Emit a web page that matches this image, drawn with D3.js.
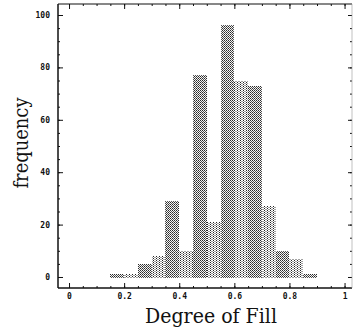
<!DOCTYPE html>
<html><head><meta charset="utf-8">
<script src="https://cdn.jsdelivr.net/npm/d3@7"></script>
<style>html,body{margin:0;padding:0;background:#fff;}svg{display:block;}</style>
</head><body>
<svg id="c" width="354" height="331"></svg>
<script>
// Data: histogram of degree of fill
const binStarts = [0.15,0.20,0.25,0.30,0.35,0.40,0.45,0.50,0.55,0.60,0.65,0.70,0.75,0.80,0.85];
const binWidth = 0.05;
const counts    = [1,1,5,8,29,10,77,21,96,75,73,27,10,7,1];
const xTicks = [0,0.2,0.4,0.6,0.8,1];
const xTickLabels = ["0","0.2","0.4","0.6","0.8","1"];
const yTicks = [0,20,40,60,80,100];
const yTickLabels = ["0","20","40","60","80","100"];

const svg = d3.select("#c");
const L = 58, R = 352, T = 4, B = 288;
const x = d3.scaleLinear().domain([-0.04, 1.027]).range([L, R]);
const y = d3.scaleLinear().domain([-4.2, 104.2]).range([B, T]);

const defs = svg.append("defs");
const pat = defs.append("pattern").attr("id","dots").attr("patternUnits","userSpaceOnUse")
  .attr("width",2).attr("height",2);
pat.append("rect").attr("width",2).attr("height",2).attr("fill","#f4f4f4");
pat.append("rect").attr("x",0).attr("y",0).attr("width",1).attr("height",1).attr("fill","#2a2a2a");
pat.append("rect").attr("x",1).attr("y",1).attr("width",1).attr("height",1).attr("fill","#555");

const pat2 = defs.append("pattern").attr("id","dots2").attr("patternUnits","userSpaceOnUse")
  .attr("width",3).attr("height",2);
pat2.append("rect").attr("width",3).attr("height",2).attr("fill","#fff");
pat2.append("rect").attr("x",0).attr("y",0).attr("width",1).attr("height",1).attr("fill","#222");
pat2.append("rect").attr("x",1.5).attr("y",1).attr("width",1).attr("height",1).attr("fill","#444");

// bars
svg.append("g").selectAll("rect").data(binStarts).join("rect")
  .attr("x", d => Math.round(x(d)))
  .attr("width", d => Math.round(x(d+binWidth)) - Math.round(x(d)))
  .attr("y", (d,i) => Math.round(y(counts[i])))
  .attr("height", (d,i) => Math.round(y(-0.5)) - Math.round(y(counts[i])))
  .attr("fill", (d,i) => (i%2===0) ? "url(#dots)" : "url(#dots2)");

// Axes (ticks inward)
const ink = "#111";
const fmtX = d => xTickLabels[xTicks.indexOf(d)] ?? "";
const fmtY = d => yTickLabels[yTicks.indexOf(d)] ?? "";
const xMinor = d3.range(0, 1.0001, 0.05);
const yMinor = d3.range(0, 101, 5);

function styleAxis(g){
  g.select(".domain").remove();
  g.selectAll("line").attr("stroke", ink).attr("stroke-width",1);
  g.selectAll("text").attr("font-family","'DejaVu Sans Mono', monospace")
    .attr("font-weight","bold").attr("font-size","8px").attr("fill", ink);
}
// bottom
svg.append("g").attr("transform",`translate(0,${B})`)
  .call(d3.axisBottom(x).tickValues(xMinor).tickSize(-2).tickFormat("")).call(styleAxis);
svg.append("g").attr("transform",`translate(0,${B})`)
  .call(d3.axisBottom(x).tickValues(xTicks).tickSize(-5).tickPadding(5).tickFormat(fmtX)).call(styleAxis);
// top
svg.append("g").attr("transform",`translate(0,${T})`)
  .call(d3.axisTop(x).tickValues(xMinor).tickSize(-2).tickFormat("")).call(styleAxis);
svg.append("g").attr("transform",`translate(0,${T})`)
  .call(d3.axisTop(x).tickValues(xTicks).tickSize(-5).tickFormat("")).call(styleAxis);
// left
svg.append("g").attr("transform",`translate(${L},0)`)
  .call(d3.axisLeft(y).tickValues(yMinor).tickSize(-2).tickFormat("")).call(styleAxis);
svg.append("g").attr("transform",`translate(${L},0)`)
  .call(d3.axisLeft(y).tickValues(yTicks).tickSize(-5).tickPadding(8).tickFormat(fmtY)).call(styleAxis);
// right
svg.append("g").attr("transform",`translate(${R},0)`)
  .call(d3.axisRight(y).tickValues(yMinor).tickSize(-2).tickFormat("")).call(styleAxis);
svg.append("g").attr("transform",`translate(${R},0)`)
  .call(d3.axisRight(y).tickValues(yTicks).tickSize(-4).tickFormat("")).call(styleAxis);

// frame
svg.append("line").attr("x1",L).attr("x2",R).attr("y1",B).attr("y2",B).attr("stroke",ink).attr("stroke-width",1.5);
svg.append("line").attr("x1",L).attr("x2",L).attr("y1",T).attr("y2",B).attr("stroke",ink).attr("stroke-width",1.5);
svg.append("line").attr("x1",L).attr("x2",R).attr("y1",T).attr("y2",T).attr("stroke",ink).attr("stroke-width",1.2);
svg.append("line").attr("x1",R).attr("x2",R).attr("y1",T).attr("y2",B).attr("stroke","#999").attr("stroke-width",0.6);

// labels
svg.append("text").attr("x", 211).attr("y", 323).attr("text-anchor","middle")
  .attr("font-family","'DejaVu Serif', serif").attr("font-size","20px").attr("fill",ink)
  .attr("textLength",132).attr("lengthAdjust","spacingAndGlyphs")
  .text("Degree of Fill");
svg.append("text").attr("transform","translate(28,143) rotate(-90)").attr("text-anchor","middle")
  .attr("font-family","'DejaVu Serif', serif").attr("font-size","20px").attr("fill",ink)
  .attr("textLength",91).attr("lengthAdjust","spacingAndGlyphs")
  .text("frequency");
</script>
</body></html>
